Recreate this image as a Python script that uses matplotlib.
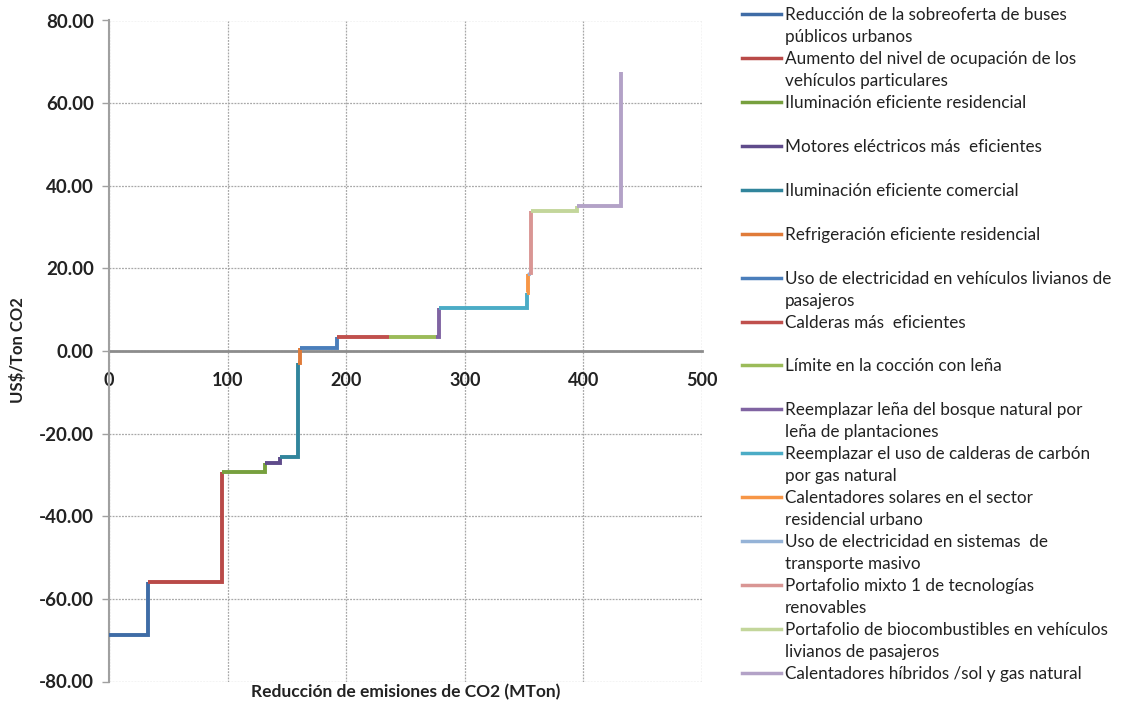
import numpy as np
import matplotlib.pyplot as plt

plt.rcParams['font.family'] = ['Lato', 'DejaVu Sans']

# abatement measures (legend order)
measures = [
    'Reducción de la sobreoferta de buses\npúblicos urbanos',
    'Aumento del nivel de ocupación de los\nvehículos particulares',
    'Iluminación eficiente residencial',
    'Motores eléctricos más  eficientes',
    'Iluminación eficiente comercial',
    'Refrigeración eficiente residencial',
    'Uso de electricidad en vehículos livianos de\npasajeros',
    'Calderas más  eficientes',
    'Límite en la cocción con leña',
    'Reemplazar leña del bosque natural por\nleña de plantaciones',
    'Reemplazar el uso de calderas de carbón\npor gas natural',
    'Calentadores solares en el sector\nresidencial urbano',
    'Uso de electricidad en sistemas  de\ntransporte masivo',
    'Portafolio mixto 1 de tecnologías\nrenovables',
    'Portafolio de biocombustibles en vehículos\nlivianos de pasajeros',
    'Calentadores híbridos /sol y gas natural',
]
# cumulative reduction at the end of each measure (MTon)
x_end = [33, 95, 131.5, 144.5, 159, 161, 192.5, 236, 275.5, 278,
         352.5, 353.5, 354.5, 356, 395, 432]
# cost of each measure (US$/Ton CO2)
cost = [-68.8, -56.0, -29.4, -27.1, -25.7, -3.0, 0.7, 3.3, 3.3, 3.3,
        10.3, 14.0, 18.6, 18.8, 33.9, 35.0]
cost_last_top = 67.5

colors = ['#3F6CA6', '#B94A48', '#77A03E', '#5F4B8B', '#31859C', '#E07B39',
          '#4A7EBB', '#C0504D', '#9BBB59', '#8064A2', '#4BACC6', '#F79646',
          '#95B3D7', '#D99694', '#C3D69B', '#B3A2C7']

fig = plt.figure(figsize=(11.29, 7.04), dpi=100)
ax = fig.add_axes([109/1129, 22.5/704, 593/1129, 661/704])

x_start = [0] + x_end[:-1]
next_cost = cost[1:] + [cost_last_top]
for i in range(len(measures)):
    xs = [x_start[i], x_end[i], x_end[i]]
    ys = [cost[i], cost[i], next_cost[i]]
    ax.plot(xs, ys, color=colors[i], lw=2.8, solid_joinstyle='miter',
            solid_capstyle='butt', zorder=3)

ax.set_xlim(0, 500)
ax.set_ylim(-80, 80)
ax.set_xticks(np.arange(0, 501, 100))
ax.set_yticks(np.arange(-80, 81, 20))
ax.set_yticklabels(['%.2f' % v for v in np.arange(-80, 81, 20)])
ax.grid(True, color='#a8a8a8', linestyle=(0, (1.5, 1)), lw=0.9)
ax.set_axisbelow(True)

for s in ['top', 'right']:
    ax.spines[s].set_visible(False)
ax.spines['bottom'].set_position(('data', 0))
ax.spines['bottom'].set_color('#8c8c8c')
ax.spines['bottom'].set_linewidth(2)
ax.spines['bottom'].set_zorder(2)
ax.spines['left'].set_color('#a0a0a0')
ax.spines['left'].set_linewidth(1.5)
ax.tick_params(axis='x', length=0, pad=15, labelsize=13, colors='#222222')
ax.tick_params(axis='y', length=5, width=1, color='#a0a0a0', pad=6,
               labelsize=13.5, labelcolor='#222222')
for lab in ax.get_xticklabels() + ax.get_yticklabels():
    lab.set_fontweight('bold')

fig.text(18/1129, 1 - 350/704, 'US$/Ton CO2', rotation=90, ha='center',
         va='center', fontsize=12, fontweight='bold', color='#222222')
fig.text(406/1129, 1 - 692/704, 'Reducción de emisiones de CO2 (MTon)',
         ha='center', va='center', fontsize=12.5, fontweight='bold',
         color='#222222')

# legend on the right
lg = fig.add_axes([0, 0, 1, 1], facecolor='none')
lg.set_xlim(0, 1129)
lg.set_ylim(704, 0)
lg.axis('off')
for i, name in enumerate(measures):
    y0 = 15 + i * 43.93
    lg.plot([742, 781], [y0 - 1, y0 - 1], color=colors[i], lw=2.5)
    for j, line in enumerate(name.split('\n')):
        lg.text(785, y0 + j * 22, line, va='center', ha='left',
                fontsize=12.3, color='#222222')

fig.savefig('out.png', dpi=100)
